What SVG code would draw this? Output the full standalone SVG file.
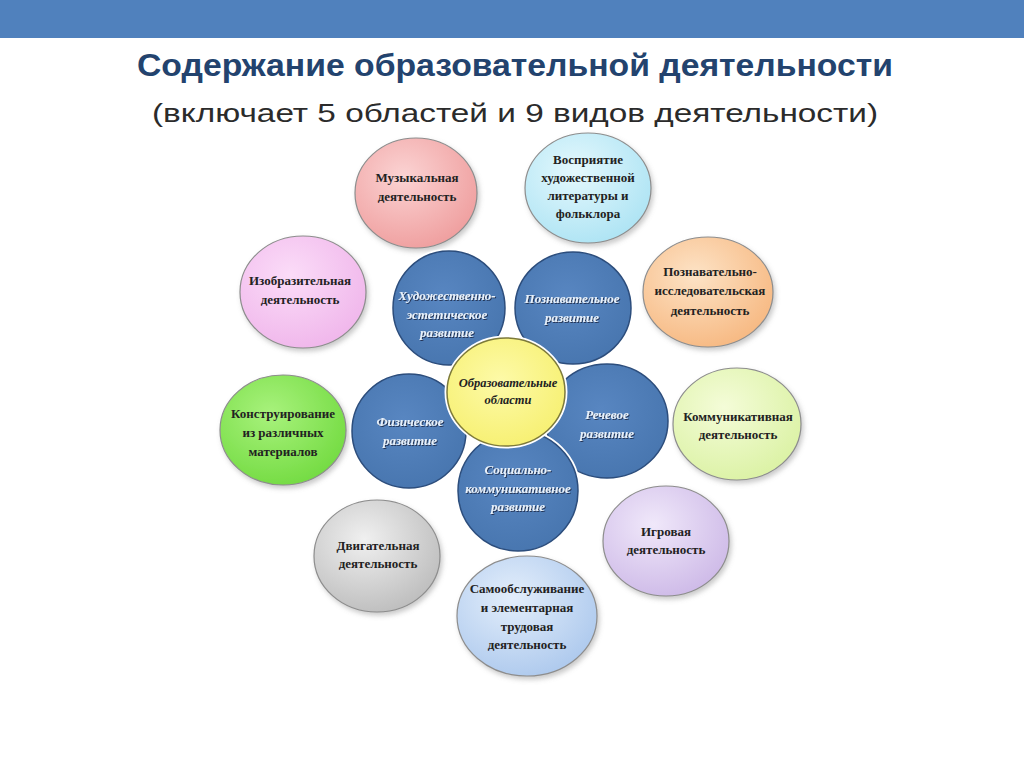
<svg xmlns="http://www.w3.org/2000/svg" width="1024" height="767" viewBox="0 0 1024 767">
<style>
.ttl{font-family:"Liberation Sans",Arial,sans-serif;font-weight:bold;fill:#23436e;text-anchor:middle}
.sub{font-family:"Liberation Sans",Arial,sans-serif;fill:#2b2b2b;text-anchor:middle}
.out{stroke:#8d8d8d;stroke-width:1.2;filter:url(#sh)}
.pet{fill:url(#gBlue);stroke:#2c4d7c;stroke-width:1.5}
.halo{fill:none;stroke:#ffffff;stroke-width:5}
.lb{font-family:"Liberation Serif","Times New Roman",serif;font-weight:bold;font-size:13px;fill:#222;text-anchor:middle}
.lw{font-family:"Liberation Serif","Times New Roman",serif;font-weight:bold;font-style:italic;font-size:13px;fill:#e8f1fb;text-anchor:middle;filter:url(#tsh)}
.lc{font-family:"Liberation Serif","Times New Roman",serif;font-weight:bold;font-style:italic;font-size:12.5px;fill:#222;text-anchor:middle}
</style>
<defs>
<filter id="sh" x="-20%" y="-20%" width="140%" height="140%"><feDropShadow dx="2" dy="3" stdDeviation="2.5" flood-color="#888" flood-opacity="0.45"/></filter>
<filter id="tsh" x="-10%" y="-30%" width="120%" height="160%"><feDropShadow dx="1" dy="1" stdDeviation="0.6" flood-color="#1b2f4d" flood-opacity="0.9"/></filter>
<radialGradient id="gPink" cx="0.4" cy="0.35" r="0.75"><stop offset="0" stop-color="#fbd3d3"/><stop offset="1" stop-color="#ee9a9a"/></radialGradient>
<radialGradient id="gSky" cx="0.4" cy="0.35" r="0.75"><stop offset="0" stop-color="#e4f8fd"/><stop offset="1" stop-color="#a9e2f3"/></radialGradient>
<radialGradient id="gViolet" cx="0.4" cy="0.35" r="0.75"><stop offset="0" stop-color="#fbdcf8"/><stop offset="1" stop-color="#efb3ea"/></radialGradient>
<radialGradient id="gOrange" cx="0.4" cy="0.35" r="0.75"><stop offset="0" stop-color="#fde3c6"/><stop offset="1" stop-color="#f6b57c"/></radialGradient>
<radialGradient id="gGreen" cx="0.4" cy="0.35" r="0.75"><stop offset="0" stop-color="#a8f27c"/><stop offset="1" stop-color="#6fd93d"/></radialGradient>
<radialGradient id="gLime" cx="0.4" cy="0.35" r="0.75"><stop offset="0" stop-color="#f4fcd8"/><stop offset="1" stop-color="#d9f1a0"/></radialGradient>
<radialGradient id="gGray" cx="0.4" cy="0.35" r="0.75"><stop offset="0" stop-color="#f0f0f0"/><stop offset="1" stop-color="#b9b9b9"/></radialGradient>
<radialGradient id="gLav" cx="0.4" cy="0.35" r="0.75"><stop offset="0" stop-color="#f0e8fa"/><stop offset="1" stop-color="#cbb6e6"/></radialGradient>
<radialGradient id="gBlue2" cx="0.4" cy="0.35" r="0.75"><stop offset="0" stop-color="#e3eefb"/><stop offset="1" stop-color="#a9c6ec"/></radialGradient>
<radialGradient id="gBlue" cx="0.45" cy="0.4" r="0.7"><stop offset="0" stop-color="#5886c1"/><stop offset="1" stop-color="#4674ad"/></radialGradient>
<radialGradient id="gYel" cx="0.45" cy="0.4" r="0.7"><stop offset="0" stop-color="#fdfaa8"/><stop offset="1" stop-color="#f6ef6c"/></radialGradient>
</defs>
<rect x="0" y="0" width="1024" height="767" fill="#ffffff"/>
<rect x="0" y="0" width="1024" height="38" fill="#5081bd"/>
<text class="ttl" x="515" y="76" font-size="31" textLength="756" lengthAdjust="spacingAndGlyphs">Содержание образовательной деятельности</text>
<text class="sub" x="515" y="122" font-size="25" textLength="726" lengthAdjust="spacingAndGlyphs">(включает 5 областей и 9 видов деятельности)</text>

<g id="connectors"></g>

<g id="n-music"><ellipse class="out" cx="416" cy="193" rx="61" ry="55" fill="url(#gPink)"/>
<text class="lb" x="417" y="182">Музыкальная</text><text class="lb" x="417" y="201">деятельность</text></g>
<g id="n-lit"><ellipse class="out" cx="588" cy="188" rx="63" ry="55" fill="url(#gSky)"/>
<text class="lb" x="588" y="164">Восприятие</text><text class="lb" x="588" y="182">художественной</text><text class="lb" x="588" y="200">литературы и</text><text class="lb" x="588" y="218">фольклора</text></g>
<g id="n-izo"><ellipse class="out" cx="303" cy="292" rx="63" ry="56" fill="url(#gViolet)"/>
<text class="lb" x="300" y="285">Изобразительная</text><text class="lb" x="300" y="304">деятельность</text></g>
<g id="n-research"><ellipse class="out" cx="708" cy="292" rx="65" ry="55" fill="url(#gOrange)"/>
<text class="lb" x="710" y="276">Познавательно-</text><text class="lb" x="710" y="295">исследовательская</text><text class="lb" x="710" y="315">деятельность</text></g>
<g id="n-construct"><ellipse class="out" cx="283" cy="430" rx="63" ry="55" fill="url(#gGreen)"/>
<text class="lb" x="283" y="418">Конструирование</text><text class="lb" x="283" y="437">из различных</text><text class="lb" x="283" y="456">материалов</text></g>
<g id="n-comm"><ellipse class="out" cx="737" cy="424" rx="64" ry="56" fill="url(#gLime)"/>
<text class="lb" x="738" y="421">Коммуникативная</text><text class="lb" x="738" y="439">деятельность</text></g>
<g id="n-motor"><ellipse class="out" cx="377" cy="556" rx="63" ry="56" fill="url(#gGray)"/>
<text class="lb" x="378" y="550">Двигательная</text><text class="lb" x="378" y="568">деятельность</text></g>
<g id="n-game"><ellipse class="out" cx="666" cy="541" rx="63" ry="55" fill="url(#gLav)"/>
<text class="lb" x="666" y="536">Игровая</text><text class="lb" x="666" y="554">деятельность</text></g>
<g id="n-self"><ellipse class="out" cx="527" cy="616" rx="70" ry="60" fill="url(#gBlue2)"/>
<text class="lb" x="527" y="593">Самообслуживание</text><text class="lb" x="527" y="612">и элементарная</text><text class="lb" x="527" y="631">трудовая</text><text class="lb" x="527" y="649">деятельность</text></g>

<g id="p-art"><ellipse class="halo" cx="449" cy="308" rx="56" ry="57"/><ellipse class="pet" cx="449" cy="308" rx="56" ry="57"/>
<text class="lw" x="447" y="300">Художественно-</text><text class="lw" x="447" y="319">эстетическое</text><text class="lw" x="447" y="337">развитие</text></g>
<g id="p-cog"><ellipse class="halo" cx="573" cy="308" rx="58" ry="56"/><ellipse class="pet" cx="573" cy="308" rx="58" ry="56"/>
<text class="lw" x="572" y="303">Познавательное</text><text class="lw" x="572" y="322">развитие</text></g>
<g id="p-phys"><ellipse class="halo" cx="409" cy="431" rx="57" ry="57"/><ellipse class="pet" cx="409" cy="431" rx="57" ry="57"/>
<text class="lw" x="410" y="426">Физическое</text><text class="lw" x="410" y="445">развитие</text></g>
<g id="p-speech"><ellipse class="halo" cx="607" cy="421" rx="61" ry="57"/><ellipse class="pet" cx="607" cy="421" rx="61" ry="57"/>
<text class="lw" x="607" y="419">Речевое</text><text class="lw" x="607" y="438">развитие</text></g>
<g id="p-social"><ellipse class="halo" cx="518" cy="491" rx="60" ry="60"/><ellipse class="pet" cx="518" cy="491" rx="60" ry="60"/>
<text class="lw" x="518" y="474">Социально-</text><text class="lw" x="518" y="493">коммуникативное</text><text class="lw" x="518" y="511">развитие</text></g>
<g id="center"><ellipse class="halo" cx="506" cy="392" rx="59" ry="54"/><ellipse cx="506" cy="392" rx="59" ry="54" fill="url(#gYel)" stroke="#7d7a3a" stroke-width="1.5"/>
<text class="lc" x="508" y="387">Образовательные</text><text class="lc" x="508" y="404">области</text></g>
</svg>
